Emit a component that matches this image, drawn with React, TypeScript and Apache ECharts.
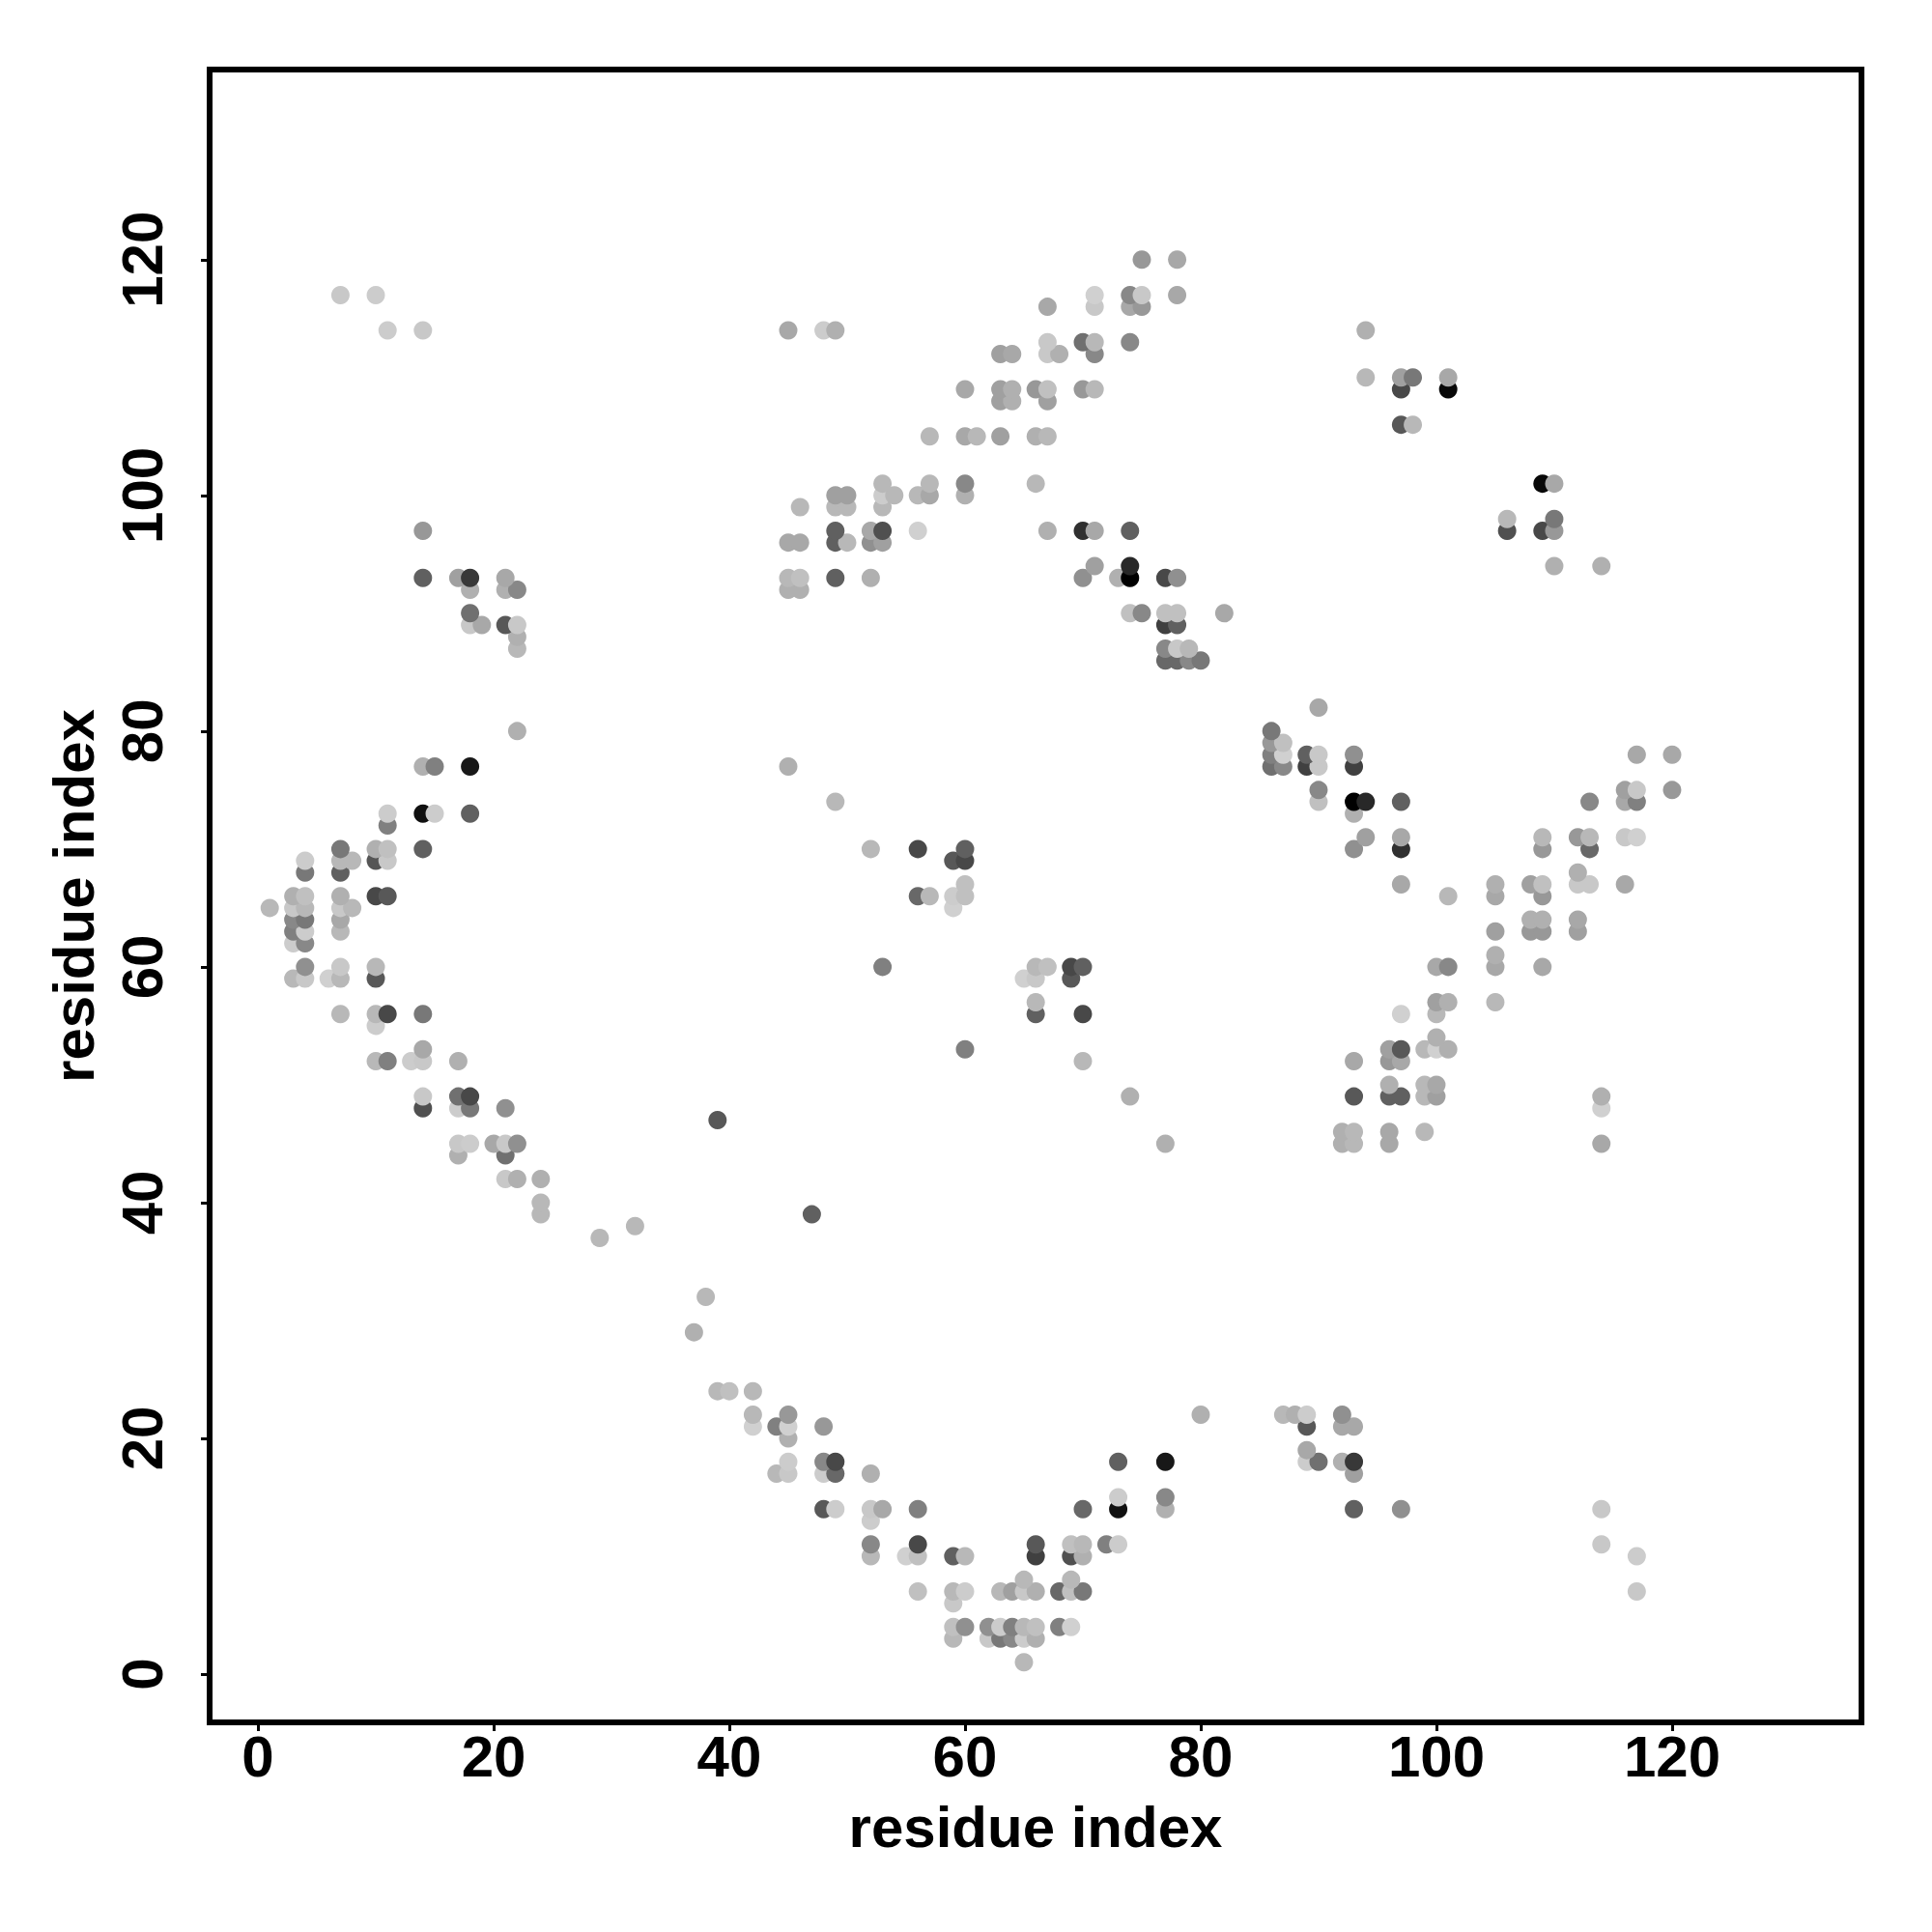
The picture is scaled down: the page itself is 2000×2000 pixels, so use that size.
import React, { useEffect, useRef } from "react";
import * as echarts from "echarts";

// Each contact: [residue index x, residue index y, grey level 0-255]
const leftArcUpper: number[][] = [
  [22, 80, 176], [14, 77, 176], [15, 77, 128], [18, 77, 24],
  [14, 73, 16], [15, 73, 204], [18, 73, 96], [11, 73, 204], [11, 72, 128],
  [14, 70, 96], [7, 70, 120], [10, 70, 176], [11, 70, 192],
  [4, 69, 204], [7, 69, 184], [8, 69, 184], [10, 69, 85], [11, 69, 200],
  [4, 68, 120], [7, 68, 96],
  [3, 66, 176], [4, 66, 192], [7, 66, 176], [10, 66, 72], [11, 66, 88],
  [1, 65, 184], [3, 65, 200], [4, 65, 184], [7, 65, 200], [8, 65, 184],
  [3, 64, 136], [4, 64, 120], [7, 64, 168],
  [3, 63, 128], [4, 63, 204], [7, 63, 184],
  [3, 62, 204], [4, 62, 136],
];
const leftArcLower: number[][] = [
  [4, 60, 144], [7, 60, 200], [10, 60, 184],
  [3, 59, 184], [4, 59, 200], [6, 59, 208], [7, 59, 184], [10, 59, 88],
  [7, 56, 184], [10, 56, 184], [11, 56, 72], [14, 56, 120], [10, 55, 204],
  [14, 53, 168], [10, 52, 184], [11, 52, 128], [13, 52, 204], [14, 52, 200], [17, 52, 176],
  [14, 49, 200], [17, 49, 112], [18, 49, 72],
  [14, 48, 80], [17, 48, 204], [18, 48, 120], [21, 48, 144],
  [17, 45, 200], [18, 45, 204], [20, 45, 168], [21, 45, 200], [22, 45, 144],
  [17, 44, 176], [21, 44, 112],
  [21, 42, 200], [22, 42, 176], [24, 42, 176], [24, 40, 184], [24, 39, 184],
  [29, 37, 184], [32, 38, 184], [37, 29, 176], [38, 32, 184], [39, 47, 88], [47, 39, 96],
];
const topLeftCluster: number[][] = [
  [7, 117, 200], [10, 117, 204], [11, 114, 204], [14, 114, 200],
  [14, 97, 152], [14, 93, 96], [17, 93, 160], [18, 93, 56], [18, 92, 176],
  [21, 93, 168], [21, 92, 176], [22, 92, 136], [18, 90, 112], [18, 89, 200], [19, 89, 168],
  [21, 89, 88], [22, 89, 200], [22, 88, 176], [22, 87, 184],
];
const topDiagonal: number[][] = [
  [75, 120, 152], [78, 120, 168],
  [71, 117, 208], [74, 117, 136], [75, 117, 200], [78, 117, 168],
  [67, 116, 168], [71, 116, 200], [74, 116, 168], [75, 116, 152],
  [45, 114, 168], [48, 114, 204], [49, 114, 176],
  [67, 113, 200], [70, 113, 112], [71, 113, 184], [74, 113, 136],
  [63, 112, 160], [64, 112, 168], [67, 112, 200], [68, 112, 176], [71, 112, 136],
  [60, 109, 168], [63, 109, 160], [64, 109, 176], [66, 109, 152], [67, 109, 192], [70, 109, 152], [71, 109, 184],
  [63, 108, 160], [64, 108, 176], [67, 108, 160],
  [57, 105, 184], [60, 105, 168], [61, 105, 184], [63, 105, 160], [66, 105, 176], [67, 105, 184],
  [53, 101, 184], [57, 101, 184], [60, 101, 136], [66, 101, 184],
  [49, 100, 160], [50, 100, 160], [53, 100, 204], [54, 100, 184], [56, 100, 184], [57, 100, 168], [60, 100, 176],
  [46, 99, 184], [49, 99, 184], [50, 99, 184], [53, 99, 184],
  [49, 97, 96], [52, 97, 168], [53, 97, 80], [56, 97, 208],
  [45, 96, 168], [46, 96, 168], [49, 96, 96], [50, 96, 184], [52, 96, 144], [53, 96, 160],
  [45, 93, 184], [46, 93, 192], [49, 93, 96], [52, 93, 176],
  [45, 92, 176], [46, 92, 176],
];
const middleDiagonal: number[][] = [
  [67, 97, 176], [70, 97, 48], [71, 97, 168], [74, 97, 96],
  [71, 94, 160], [74, 94, 40],
  [70, 93, 144], [73, 93, 176], [74, 93, 0], [77, 93, 72], [78, 93, 144],
  [74, 90, 192], [75, 90, 136], [77, 90, 192], [78, 90, 192], [82, 90, 168],
  [77, 89, 64], [78, 89, 96],
  [77, 87, 136], [78, 87, 200], [79, 87, 184],
  [77, 86, 104], [78, 86, 104], [79, 86, 136], [80, 86, 120],
];
const centreCluster: number[][] = [
  [45, 77, 176], [49, 74, 184],
  [52, 70, 184], [56, 70, 72], [60, 70, 96], [59, 69, 88], [60, 69, 72],
  [56, 66, 104], [57, 66, 184], [59, 66, 204], [60, 67, 192], [60, 66, 192], [59, 65, 208],
  [53, 60, 128], [66, 60, 184], [67, 60, 192], [65, 59, 208], [66, 59, 200],
  [69, 60, 72], [70, 60, 96], [69, 59, 88], [66, 57, 184], [66, 56, 96], [70, 56, 72],
  [60, 53, 128], [70, 52, 184], [74, 49, 176], [77, 45, 176],
];
const rightUpper: number[][] = [
  [94, 114, 176], [94, 110, 184], [97, 110, 160], [98, 110, 120], [101, 110, 168],
  [97, 109, 72], [101, 109, 8], [97, 106, 88], [98, 106, 184],
  [109, 101, 8], [110, 101, 168], [106, 98, 184], [106, 97, 80],
  [110, 98, 120], [109, 97, 72], [110, 97, 152], [110, 94, 176], [114, 94, 176],
];
const rightArm: number[][] = [
  [90, 82, 168], [86, 80, 120], [86, 79, 152], [87, 79, 192],
  [86, 78, 128], [87, 78, 208], [89, 78, 96], [90, 78, 200], [93, 78, 144], [117, 78, 168], [120, 78, 168],
  [86, 77, 112], [87, 77, 136], [89, 77, 64], [90, 77, 200], [93, 77, 64],
  [90, 75, 136], [116, 75, 160], [117, 75, 200], [120, 75, 152],
  [90, 74, 192], [93, 74, 0], [94, 74, 40], [97, 74, 96], [113, 74, 136], [116, 74, 168], [117, 74, 128],
  [93, 73, 176], [94, 71, 160], [93, 70, 144], [97, 71, 168], [97, 70, 48],
  [109, 71, 184], [109, 70, 152], [112, 71, 152], [113, 71, 184], [113, 70, 104], [116, 71, 200], [117, 71, 208],
  [112, 68, 176],
  [97, 67, 168], [105, 67, 176], [108, 67, 160], [109, 67, 192], [112, 67, 200], [113, 67, 200], [116, 67, 168],
  [101, 66, 184], [105, 66, 168], [109, 66, 152],
  [108, 64, 176], [109, 64, 176], [112, 64, 168],
  [105, 63, 160], [108, 63, 152], [109, 63, 152], [112, 63, 160],
];
const rightLower: number[][] = [
  [105, 61, 176], [105, 60, 168], [109, 60, 168], [100, 60, 168], [101, 60, 136],
  [100, 57, 160], [101, 57, 176], [105, 57, 184], [100, 56, 184], [97, 56, 208],
  [100, 54, 176], [96, 53, 160], [97, 53, 88], [99, 53, 184], [100, 53, 208], [101, 53, 176],
  [93, 52, 168], [96, 52, 152], [97, 52, 168],
  [96, 50, 176], [99, 50, 184], [100, 50, 168],
  [93, 49, 88], [96, 49, 96], [97, 49, 96], [99, 49, 184], [100, 49, 160], [114, 49, 176],
  [114, 48, 208],
  [92, 46, 176], [93, 46, 184], [96, 46, 168], [99, 46, 184],
  [92, 45, 176], [93, 45, 184], [96, 45, 168], [114, 45, 168],
];
const bottomArc: number[][] = [
  [39, 24, 184], [40, 24, 192], [42, 24, 184],
  [42, 22, 184], [45, 22, 152], [80, 22, 176],
  [42, 21, 208], [44, 21, 128], [45, 21, 208], [48, 21, 152], [45, 20, 176],
  [45, 18, 204], [48, 18, 136], [49, 18, 72], [73, 18, 96], [77, 18, 24],
  [44, 17, 184], [45, 17, 200], [48, 17, 204], [49, 17, 104], [52, 17, 176],
  [73, 15, 204], [77, 15, 136],
  [48, 14, 88], [49, 14, 204], [52, 14, 200], [53, 14, 168], [56, 14, 128], [70, 14, 104], [73, 14, 16], [77, 14, 176],
  [52, 13, 204],
  [52, 11, 136], [56, 11, 72], [66, 11, 88], [69, 11, 192], [70, 11, 184], [72, 11, 128], [73, 11, 204],
  [52, 10, 184], [55, 10, 208], [56, 10, 192], [59, 10, 96], [60, 10, 184], [66, 10, 64], [69, 10, 80], [70, 10, 176],
  [65, 8, 184], [69, 8, 184],
  [56, 7, 192], [59, 7, 184], [60, 7, 204], [63, 7, 184], [64, 7, 160], [65, 7, 200], [66, 7, 176],
  [68, 7, 104], [69, 7, 192], [70, 7, 120],
  [59, 6, 200],
  [59, 4, 192], [60, 4, 144], [62, 4, 144], [63, 4, 204], [64, 4, 128], [65, 4, 184], [66, 4, 192], [68, 4, 128], [69, 4, 208],
  [59, 3, 184], [62, 3, 200], [63, 3, 120], [64, 3, 136], [65, 3, 204], [66, 3, 176],
  [65, 1, 184],
];
const bottomRight: number[][] = [
  [87, 22, 184], [88, 22, 176], [89, 22, 204], [89, 21, 88], [92, 22, 144], [92, 21, 168], [93, 21, 168],
  [89, 19, 168], [89, 18, 204], [90, 18, 112], [92, 18, 176], [93, 18, 56], [93, 17, 160],
  [93, 14, 96], [97, 14, 144], [114, 14, 200], [114, 11, 200], [117, 10, 204], [117, 7, 200],
];

const tickValues = [0, 20, 40, 60, 80, 100, 120];
const axisTitle = "residue index";

const contacts = [
  ...leftArcUpper, ...leftArcLower, ...topLeftCluster, ...topDiagonal, ...middleDiagonal,
  ...centreCluster, ...rightUpper, ...rightArm, ...rightLower, ...bottomArc, ...bottomRight,
].sort((a, b) => a[1] - b[1] || a[0] - b[0]);

const FONT = "'Liberation Sans', Arial, sans-serif";

export default function App() {
  const ref = useRef<HTMLDivElement>(null);
  useEffect(() => {
    document.body.style.margin = "0";
    const chart = echarts.init(ref.current!, null, { renderer: "svg" });
    chart.setOption({
      animation: false,
      backgroundColor: "#ffffff",
      grid: {
        show: true, left: 217, top: 72, width: 1710, height: 1711,
        borderColor: "#000", borderWidth: 6, backgroundColor: "transparent",
      },
      xAxis: {
        type: "value", min: -4.1, max: 136.07,
        name: axisTitle, nameLocation: "middle", nameGap: 78,
        nameTextStyle: { fontFamily: FONT, fontWeight: "bold", fontSize: 60, color: "#000" },
        axisLine: { show: false, onZero: false }, splitLine: { show: false },
        axisTick: { show: true, length: 9, lineStyle: { color: "#000", width: 3 }, customValues: tickValues },
        axisLabel: {
          customValues: tickValues, margin: 5, color: "#000",
          fontFamily: FONT, fontWeight: "bold", fontSize: 60,
        },
      },
      yAxis: {
        type: "value", min: -4.1, max: 136.13,
        name: axisTitle, nameLocation: "middle", nameGap: 111, nameRotate: 90,
        nameTextStyle: { fontFamily: FONT, fontWeight: "bold", fontSize: 60, color: "#000" },
        axisLine: { show: false, onZero: false }, splitLine: { show: false },
        axisTick: { show: true, length: 9, lineStyle: { color: "#000", width: 3 }, customValues: tickValues },
        axisLabel: {
          customValues: tickValues, rotate: 90, margin: 40, color: "#000",
          fontFamily: FONT, fontWeight: "bold", fontSize: 60,
        },
      },
      series: [{
        type: "scatter",
        symbol: "circle",
        symbolSize: 19,
        itemStyle: { opacity: 1 },
        data: contacts.map((c) => ({
          value: [c[0], c[1]],
          itemStyle: { color: `rgb(${c[2]},${c[2]},${c[2]})`, opacity: 1 },
        })),
      }],
    });
    return () => chart.dispose();
  }, []);
  return <div ref={ref} style={{ width: 2000, height: 2000 }} />;
}
